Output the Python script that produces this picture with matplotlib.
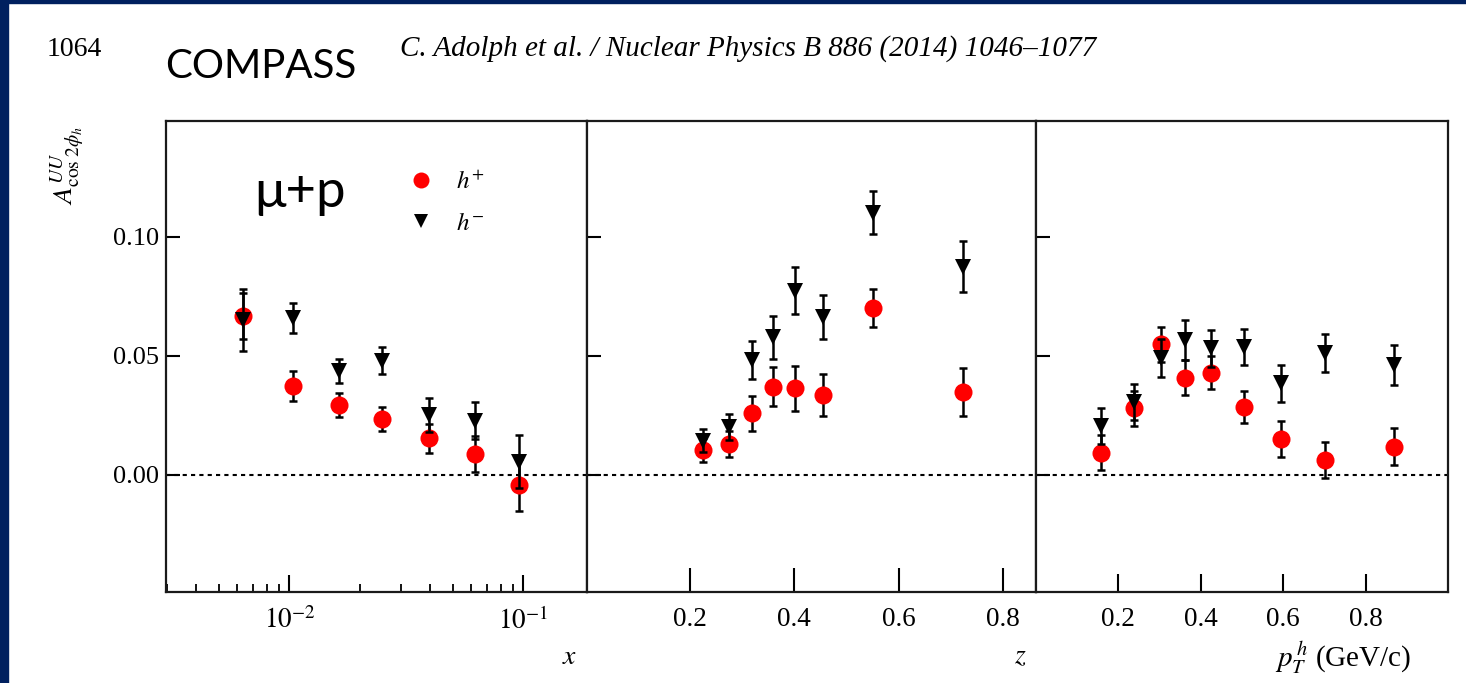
import matplotlib
matplotlib.use("Agg")
import matplotlib.pyplot as plt
from matplotlib.lines import Line2D
from matplotlib.patches import Rectangle
from matplotlib.ticker import LogLocator, NullFormatter, FixedLocator

plt.rcParams['font.family'] = ['Liberation Serif', 'DejaVu Serif']
plt.rcParams['mathtext.fontset'] = 'stix'

# ---------------- data ----------------
# x bins
x_vals = [0.00632, 0.0104, 0.01622, 0.02496, 0.0394, 0.0622, 0.0962]
x_hp = [0.0668, 0.0374, 0.0293, 0.0234, 0.0153, 0.0088, -0.0042]
x_hp_err = [0.0098, 0.0063, 0.0050, 0.0050, 0.0062, 0.0075, 0.0110]
x_hm = [0.0650, 0.0658, 0.0438, 0.0480, 0.0252, 0.0228, 0.0056]
x_hm_err = [0.0130, 0.0063, 0.0050, 0.0056, 0.0071, 0.0078, 0.0112]

# z bins
z_vals = [0.2243, 0.2747, 0.3194, 0.3596, 0.4012, 0.4542, 0.5512, 0.7236]
z_hp = [0.0105, 0.0129, 0.0259, 0.0371, 0.0364, 0.0335, 0.0702, 0.0349]
z_hp_err = [0.0050, 0.0055, 0.0074, 0.0083, 0.0095, 0.0089, 0.0079, 0.0102]
z_hm = [0.0144, 0.0203, 0.0483, 0.0578, 0.0774, 0.0662, 0.1102, 0.0875]
z_hm_err = [0.0047, 0.0055, 0.0078, 0.0091, 0.0100, 0.0092, 0.0089, 0.0108]

# pT bins
pt_vals = [0.157, 0.2377, 0.3022, 0.3609, 0.4237, 0.5043, 0.5945, 0.7008, 0.8682]
pt_hp = [0.0094, 0.0280, 0.0549, 0.0409, 0.0430, 0.0287, 0.0150, 0.0063, 0.0119]
pt_hp_err = [0.0073, 0.0074, 0.0074, 0.0073, 0.0070, 0.0067, 0.0076, 0.0077, 0.0078]
pt_hm = [0.0207, 0.0308, 0.0490, 0.0567, 0.0532, 0.0536, 0.0385, 0.0511, 0.0462]
pt_hm_err = [0.0076, 0.0076, 0.0080, 0.0083, 0.0077, 0.0075, 0.0078, 0.0080, 0.0084]

y_ticks = [0.00, 0.05, 0.10]
y_ticklabels = ["0.00", "0.05", "0.10"]
lin_ticks = [0.2, 0.4, 0.6, 0.8]
lin_ticklabels = ["0.2", "0.4", "0.6", "0.8"]

W, H = 1466, 683
fig = plt.figure(figsize=(W / 100, H / 100), dpi=100)
fig.patch.set_facecolor('white')

# dark blue slide border (left and top)
navy = '#00205F'
fig.add_artist(Rectangle((0, 0), 8 / W, 1, transform=fig.transFigure, color=navy, zorder=0))
fig.add_artist(Rectangle((0, 1 - 3 / H), 1, 3 / H, transform=fig.transFigure, color=navy, zorder=0))

bottom = 1 - 592 / H
height = (592 - 121) / H
edges = [166, 587, 1036, 1448]
axes = []
for i in range(3):
    ax = fig.add_axes([edges[i] / W, bottom, (edges[i + 1] - edges[i]) / W, height])
    axes.append(ax)

panels = [
    (x_vals, x_hp, x_hp_err, x_hm, x_hm_err),
    (z_vals, z_hp, z_hp_err, z_hm, z_hm_err),
    (pt_vals, pt_hp, pt_hp_err, pt_hm, pt_hm_err),
]

for ax, (xv, hp, hpe, hm, hme) in zip(axes, panels):
    ax.axhline(0, color='black', linestyle=(0, (2, 2)), linewidth=1.5, zorder=1)
    ax.errorbar(xv, hp, yerr=hpe, fmt='none', ecolor='black', elinewidth=1.8,
                capsize=2.6, capthick=1.8, zorder=2)
    ax.plot(xv, hp, 'o', color='#FF0000', markersize=13, markeredgewidth=0, zorder=3)
    ax.errorbar(xv, hm, yerr=hme, fmt='none', ecolor='black', elinewidth=1.8,
                capsize=2.6, capthick=1.8, zorder=4)
    ax.plot(xv, hm, 'v', color='black', markersize=11.5, markeredgewidth=0, zorder=5)
    ax.set_ylim(-0.0492, 0.1487)
    ax.set_yticks(y_ticks)
    for s in ax.spines.values():
        s.set_linewidth(1.6)
        s.set_color('#1a1a1a')
    ax.tick_params(axis='y', which='major', direction='in', length=10, width=1.5,
                   left=True, right=False, labelsize=19, pad=5)
    ax.tick_params(axis='x', which='both', direction='in', top=False, labelsize=19.5, pad=11)

axes[0].set_yticklabels(y_ticklabels)
for ax in axes[1:]:
    ax.tick_params(axis='y', labelleft=False)

# x panel (log)
ax0 = axes[0]
ax0.set_xscale('log')
ax0.set_xlim(0.00297, 0.187)
ax0.xaxis.set_major_locator(FixedLocator([0.01, 0.1]))
ax0.set_xticklabels([r'$10^{-2}$', r'$10^{-1}$'])
ax0.xaxis.set_minor_locator(LogLocator(base=10, subs=range(2, 10)))
ax0.xaxis.set_minor_formatter(NullFormatter())
ax0.tick_params(axis='x', which='major', length=12, width=1.5)
ax0.tick_params(axis='x', which='minor', length=6, width=1.3)

# z panel
ax1 = axes[1]
ax1.set_xlim(0.003, 0.863)
ax1.set_xticks(lin_ticks)
ax1.set_xticklabels(lin_ticklabels)
ax1.tick_params(axis='x', which='major', length=17, width=1.5)

# pT panel
ax2 = axes[2]
ax2.set_xlim(0.0, 1.0)
ax2.set_xticks(lin_ticks)
ax2.set_xticklabels(lin_ticklabels)
ax2.tick_params(axis='x', which='major', length=13, width=1.5)

# axis labels
ax0.set_xlabel(r'$x$', fontsize=20, ha='center', va='center')
ax0.xaxis.set_label_coords((570 - 166) / 421, (592 - 657) / 471)
ax1.set_xlabel(r'$z$', fontsize=20, ha='center', va='center')
ax1.xaxis.set_label_coords((1020 - 587) / 449, (592 - 657) / 471)
ax2.set_xlabel(r'$p_T^{\,h}$ (GeV/c)', fontsize=21, ha='center', va='center')
ax2.xaxis.set_label_coords((1343 - 1036) / 412, (592 - 658) / 471)

# y label
fig.text(67 / W, 1 - 165 / H, r'$A^{UU}_{\mathrm{cos}\ 2\phi_h}$', rotation=90,
         fontsize=20, ha='center', va='center')

# legend
handles = [Line2D([], [], marker='o', color='#FF0000', linestyle='none', markersize=11.5, markeredgewidth=0),
           Line2D([], [], marker='v', color='black', linestyle='none', markersize=10.5, markeredgewidth=0)]
ax0.legend(handles, [r'$h^{+}$', r'$h^{-}$'], frameon=False, fontsize=18,
           loc='upper left', bbox_to_anchor=(396 / W, 1 - 158 / H), bbox_transform=fig.transFigure,
           borderpad=0, handlelength=1.0, handletextpad=0.9, labelspacing=0.75)

# texts
ax0.text((254 - 166) / 421, (592 - 192) / 471, 'μ+p', transform=ax0.transAxes,
         fontsize=38, family=['Lato', 'DejaVu Sans'], ha='left', va='center')
fig.text(47 / W, 1 - 49 / H, '1064', fontsize=20, ha='left', va='center')
fig.text(165 / W, 1 - 66 / H, 'COMPASS', fontsize=29, family=['Lato', 'DejaVu Sans'],
         ha='left', va='center')
fig.text(400 / W, 1 - 49 / H, 'C. Adolph et al. / Nuclear Physics B 886 (2014) 1046–1077',
         fontsize=21, style='italic', ha='left', va='center')

fig.savefig('out.png', dpi=100)
